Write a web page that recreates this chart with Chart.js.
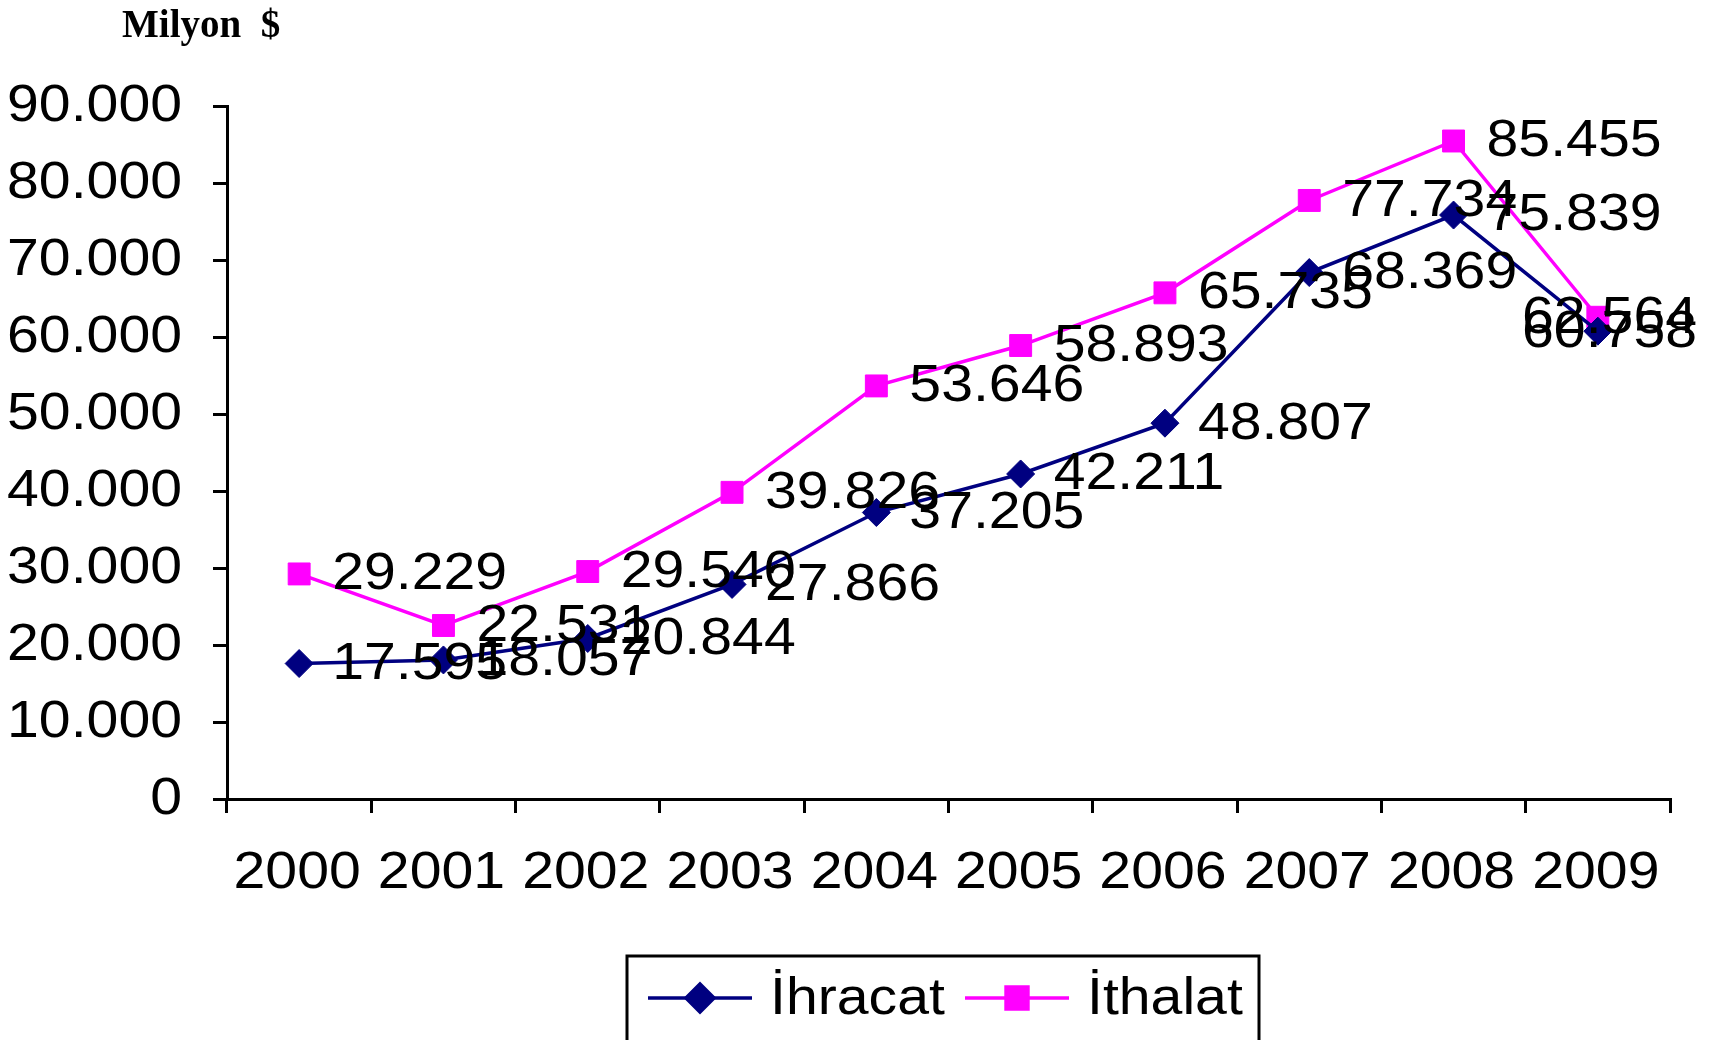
<!DOCTYPE html>
<html>
<head>
<meta charset="utf-8">
<script src="https://cdn.jsdelivr.net/npm/chart.js@4.4.1/dist/chart.umd.min.js"></script>
<style>
  html, body { margin:0; padding:0; background:#fff; }
  #wrap { width:1709px; height:1040px; }
</style>
</head>
<body>
<div id="wrap"><canvas id="grafik"></canvas></div>
<script>
// Yıllar ve seriler (Milyon $)
const yillar = ['2000','2001','2002','2003','2004','2005','2006','2007','2008','2009'];
const ihracat = [17595, 18057, 20844, 27866, 37205, 42211, 48807, 68369, 75839, 60758];
const ithalat = [29229, 22531, 29540, 39826, 53646, 58893, 65735, 77734, 85455, 62564];
const yTicks = [0, 10000, 20000, 30000, 40000, 50000, 60000, 70000, 80000, 90000];

const FONT = "'Liberation Sans', Arial, sans-serif";
const SX = 1.1; // yazılar orijinalde yatay olarak biraz geniş

function noktali(v){
  return String(v).replace(/\B(?=(\d{3})+(?!\d))/g, '.');
}

// geniş yazı: align = 'left' | 'center' | 'right'
function yaz(c, s, x, y, align, sx){
  const k = sx || SX;
  const w = c.measureText(s).width * k;
  let left = x;
  if (align === 'center') left = x - w / 2;
  if (align === 'right') left = x - w;
  c.save();
  c.translate(left, y);
  c.scale(k, 1);
  c.textAlign = 'left';
  c.fillText(s, 0, 0);
  c.restore();
  return w;
}

// Başlık: Milyon $
const baslikPlugin = {
  id:'baslik',
  afterDraw(chart){
    const c = chart.ctx;
    c.save();
    c.fillStyle = '#000';
    c.font = "bold 39px 'Liberation Serif', 'Times New Roman', serif";
    c.textBaseline = 'alphabetic';
    yaz(c, 'Milyon  $', 122, 37, 'left', 1);
    c.restore();
  }
};

// Eksen yazıları
const eksenPlugin = {
  id:'eksenYazi',
  afterDraw(chart){
    const c = chart.ctx;
    const sx = chart.scales.x, sy = chart.scales.y;
    c.save();
    c.fillStyle = '#000';
    c.font = '52px ' + FONT;
    c.textBaseline = 'middle';
    sy.ticks.forEach(t => {
      yaz(c, noktali(t.value), 182, sy.getPixelForValue(t.value) + 1, 'right');
    });
    yillar.forEach((yil, i) => {
      yaz(c, yil, sx.getPixelForValue(i) - 2, 874, 'center');
    });
    c.restore();
  }
};

// Veri etiketleri (noktanın sağında)
const etiketPlugin = {
  id:'etiketler',
  afterDatasetsDraw(chart){
    const c = chart.ctx;
    c.save();
    c.fillStyle = '#000';
    c.font = '52px ' + FONT;
    c.textBaseline = 'middle';
    chart.data.datasets.forEach((ds, i) => {
      const meta = chart.getDatasetMeta(i);
      meta.data.forEach((pt, j) => {
        const s = noktali(ds.data[j]);
        const w = c.measureText(s).width * SX;
        let x = pt.x + 33;
        if (x + w > 1697) x = 1697 - w;
        yaz(c, s, x, pt.y + 1, 'left');
      });
    });
    c.restore();
  }
};

// Çerçeveli lejant
const lejantPlugin = {
  id:'lejant',
  afterDraw(chart){
    const c = chart.ctx;
    c.save();
    c.strokeStyle = '#000';
    c.lineWidth = 3;
    c.strokeRect(627, 956, 632, 110);
    const ogeler = [
      {x:648, ds:chart.data.datasets[0]},
      {x:965, ds:chart.data.datasets[1]}
    ];
    const y = 998;
    ogeler.forEach(o => {
      c.strokeStyle = o.ds.borderColor;
      c.lineWidth = o.ds.borderWidth;
      c.beginPath(); c.moveTo(o.x, y); c.lineTo(o.x + 104, y); c.stroke();
      Chart.helpers.drawPoint(c, {
        pointStyle:o.ds.pointStyle, radius:o.ds.pointRadius, borderWidth:1
      }, o.x + 52, y);
      c.fillStyle = o.ds.borderColor;
      c.fill();
      c.fillStyle = '#000';
      c.font = '52px ' + FONT;
      c.textBaseline = 'middle';
      yaz(c, o.ds.label, o.x + 122, y + 2, 'left');
    });
    c.restore();
  }
};

const ctx = document.getElementById('grafik').getContext('2d');
new Chart(ctx, {
  type:'line',
  data:{
    labels: yillar,
    datasets:[
      {
        label:'İhracat',
        data: ihracat,
        borderColor:'#000080',
        backgroundColor:'#000080',
        borderWidth:3.5,
        pointStyle:'rectRot',
        pointRadius:14,
        pointBorderWidth:1,
        tension:0
      },
      {
        label:'İthalat',
        data: ithalat,
        borderColor:'#FF00FF',
        backgroundColor:'#FF00FF',
        borderWidth:3.5,
        pointStyle:'rect',
        pointRadius:15.5,
        pointBorderWidth:1,
        tension:0
      }
    ]
  },
  options:{
    responsive:true,
    maintainAspectRatio:false,
    animation:false,
    layout:{ padding:{ top:106, right:39, left:0, bottom:0 } },
    plugins:{
      legend:{ display:false },
      tooltip:{ enabled:false }
    },
    scales:{
      x:{
        offset:true,
        grid:{ offset:true, drawOnChartArea:false, color:'#000', lineWidth:3, tickLength:14 },
        border:{ color:'#000', width:3 },
        ticks:{ color:'rgba(0,0,0,0)', font:{ family:FONT, size:52 }, padding:20, maxRotation:0, autoSkip:false },
        afterFit(s){ s.height = 241; }
      },
      y:{
        min:0, max:90000,
        afterBuildTicks(s){ s.ticks = yTicks.map(v => ({value:v})); },
        grid:{ drawOnChartArea:false, color:'#000', lineWidth:3, tickLength:14 },
        border:{ color:'#000', width:3 },
        ticks:{ color:'rgba(0,0,0,0)', font:{ family:FONT, size:52 }, padding:22, callback:v => noktali(v) },
        afterFit(s){ s.width = 227; }
      }
    }
  },
  plugins:[baslikPlugin, eksenPlugin, etiketPlugin, lejantPlugin]
});
</script>
</body>
</html>
